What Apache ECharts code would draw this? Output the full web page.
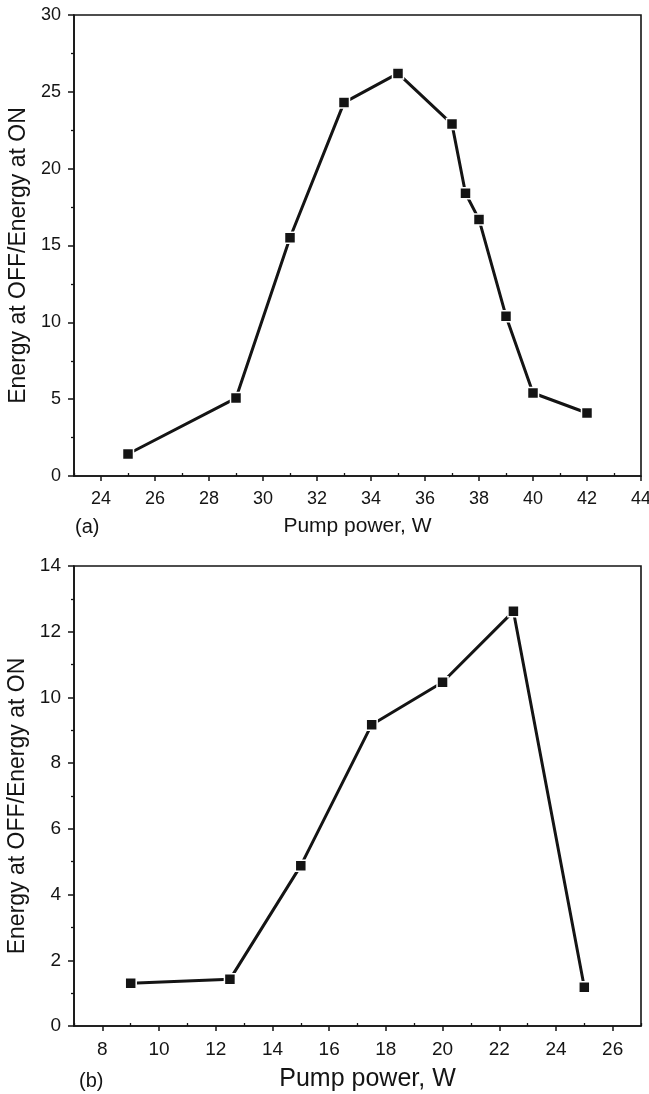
<!DOCTYPE html>
<html>
<head>
<meta charset="utf-8">
<title>Energy ratio vs pump power</title>
<script src="https://cdn.jsdelivr.net/npm/echarts@6/dist/echarts.min.js"></script>
<style>
  html, body { margin: 0; padding: 0; background: #fff; }
  #chart { width: 649px; height: 1094px; }
</style>
</head>
<body>
<div id="chart"></div>
<script>
// Panel (a): pump power (W) vs energy ratio
const powerA = [25, 29, 31, 33, 35, 37, 37.5, 38, 39, 40, 42];
const ratioA = [1.43, 5.07, 15.5, 24.3, 26.2, 22.9, 18.4, 16.7, 10.4, 5.4, 4.1];

// Panel (b): pump power (W) vs energy ratio
const powerB = [9, 12.5, 15, 17.5, 20, 22.5, 25];
const ratioB = [1.3, 1.42, 4.88, 9.17, 10.46, 12.62, 1.18];

// Axis tick positions (major labelled, minor unlabelled)
const majorTicksA = [24, 26, 28, 30, 32, 34, 36, 38, 40, 42, 44];
const minorTicksA = [23, 25, 27, 29, 31, 33, 35, 37, 39, 41, 43];
const majorTicksB = [8, 10, 12, 14, 16, 18, 20, 22, 24, 26];
const minorTicksB = [7, 9, 11, 13, 15, 17, 19, 21, 23, 25, 27];

const xTitle = 'Pump power, W';
const yTitle = 'Energy at OFF/Energy at ON';

const FONT = '"Liberation Sans", Arial, Helvetica, sans-serif';
const INK = '#141414';
const pairs = (xs, ys) => xs.map((x, i) => [x, ys[i]]);

function majorX(grid, min, max, ticks, labelSize, nameSize, nameGap, namePadLeft) {
  return {
    type: 'value', gridIndex: grid, min: min, max: max,
    axisLine: { show: true, onZero: false, lineStyle: { color: INK, width: 1.6 } },
    axisTick: { show: true, customValues: ticks, length: 5, lineStyle: { color: INK, width: 1.5 } },
    axisLabel: { customValues: ticks, color: INK, fontFamily: FONT, fontSize: labelSize, margin: 14 },
    splitLine: { show: false },
    name: xTitle, nameLocation: 'middle', nameGap: nameGap,
    nameTextStyle: { color: INK, fontFamily: FONT, fontSize: nameSize, padding: [0, 0, 0, namePadLeft] }
  };
}
function minorX(grid, min, max, ticks) {
  return {
    type: 'value', gridIndex: grid, min: min, max: max,
    axisLine: { show: false },
    axisTick: { show: true, customValues: ticks, length: 3, lineStyle: { color: INK, width: 1.3 } },
    axisLabel: { show: false },
    splitLine: { show: false }
  };
}
function yAxis(grid, max, interval, labelSize, nameSize) {
  return {
    type: 'value', gridIndex: grid, min: 0, max: max, interval: interval,
    axisLine: { show: true, onZero: false, lineStyle: { color: INK, width: 1.6 } },
    axisTick: { show: true, length: 6, lineStyle: { color: INK, width: 1.5 } },
    minorTick: { show: true, splitNumber: 2, length: 3, lineStyle: { color: INK, width: 1.3 } },
    axisLabel: { color: INK, fontFamily: FONT, fontSize: labelSize, margin: 13 },
    splitLine: { show: false },
    name: yTitle, nameLocation: 'middle', nameGap: 44, nameRotate: 90,
    // right padding nudges the rotated title slightly downward
    nameTextStyle: { color: INK, fontFamily: FONT, fontSize: nameSize, padding: [0, 20, 0, 0] }
  };
}
function lineSeries(xIdx, yIdx, data) {
  return {
    type: 'line', xAxisIndex: xIdx, yAxisIndex: yIdx, data: data,
    symbol: 'rect', symbolSize: 11, showSymbol: true,
    lineStyle: { color: INK, width: 3 },
    itemStyle: { color: INK, borderColor: '#ffffff', borderWidth: 1.5 },
    animation: false, z: 3
  };
}

const chart = echarts.init(document.getElementById('chart'), null, { renderer: 'canvas' });
chart.setOption({
  backgroundColor: '#ffffff',
  animation: false,
  grid: [
    { left: 74, top: 15, width: 567, height: 461, show: true, borderColor: INK, borderWidth: 1.6,
      backgroundColor: 'transparent', outerBoundsMode: 'none', containLabel: false },
    { left: 74, top: 566, width: 567, height: 460, show: true, borderColor: INK, borderWidth: 1.6,
      backgroundColor: 'transparent', outerBoundsMode: 'none', containLabel: false }
  ],
  xAxis: [
    majorX(0, 23, 44, majorTicksA, 18, 21, 40, 0),
    minorX(0, 23, 44, minorTicksA),
    majorX(1, 7, 27, majorTicksB, 19, 25, 41, 20),
    minorX(1, 7, 27, minorTicksB)
  ],
  yAxis: [
    yAxis(0, 30, 5, 18, 23),
    yAxis(1, 14, 2, 19, 23)
  ],
  series: [
    lineSeries(0, 0, pairs(powerA, ratioA)),
    lineSeries(2, 1, pairs(powerB, ratioB))
  ],
  graphic: [
    { type: 'text', left: 75, top: 517, style: { text: '(a)', fill: INK, font: '20px ' + FONT } },
    { type: 'text', left: 79, top: 1071, style: { text: '(b)', fill: INK, font: '20px ' + FONT } }
  ]
});
</script>
</body>
</html>
